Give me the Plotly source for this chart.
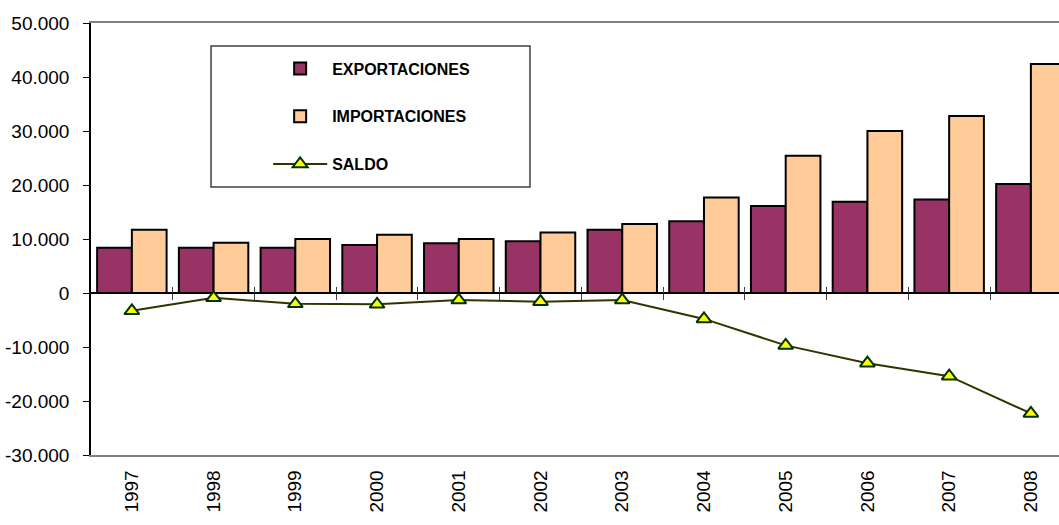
import plotly.graph_objects as go

years = ["1997", "1998", "1999", "2000", "2001", "2002", "2003", "2004", "2005", "2006", "2007", "2008"]
exportaciones = [8400, 8400, 8400, 8900, 9200, 9600, 11700, 13300, 16100, 16900, 17300, 20200]
importaciones = [11700, 9300, 10000, 10800, 10000, 11200, 12800, 17700, 25400, 30000, 32800, 42400]
saldo = [-3300, -900, -2000, -2100, -1300, -1600, -1300, -4800, -9700, -13000, -15400, -22300]
y_ticks = [-30000, -20000, -10000, 0, 10000, 20000, 30000, 40000, 50000]
y_tick_text = ["-30.000", "-20.000", "-10.000", "0", "10.000", "20.000", "30.000", "40.000", "50.000"]

idx = list(range(len(years)))
boundaries = [i + 0.5 for i in idx]
xr = [-0.5, 11.344]
font_family = "Arial, Liberation Sans, sans-serif"

fig = go.Figure()
fig.add_trace(go.Bar(
    x=idx, y=exportaciones, name="EXPORTACIONES",
    marker=dict(color="#993366", line=dict(color="black", width=2)),
    legendgroup="a",
))
fig.add_trace(go.Bar(
    x=idx, y=importaciones, name="IMPORTACIONES",
    marker=dict(color="#FFCC99", line=dict(color="black", width=2)),
    legendgroup="b",
))
fig.add_trace(go.Scatter(
    x=idx, y=saldo, name="SALDO", mode="lines+markers",
    line=dict(color="#333300", width=2),
    marker=dict(symbol="triangle-up", size=13, color="#FFFF00",
                line=dict(color="#003300", width=2)),
    legendgroup="c",
))
# carriers for the boundary tick marks drawn on the zero line (draw nothing themselves)
for ax in ("x2", "x3"):
    fig.add_trace(go.Scatter(x=idx, y=saldo, xaxis=ax, mode="none",
                             showlegend=False, hoverinfo="skip"))

fig.update_layout(
    width=1059, height=525,
    margin=dict(l=91, r=0, t=23, b=70),
    paper_bgcolor="white", plot_bgcolor="white",
    font=dict(family=font_family, color="black"),
    barmode="group", bargap=0.15, bargroupgap=0,
    showlegend=True,
    legend=dict(
        x=0.183, y=0.934, xanchor="left", yanchor="top",
        bgcolor="rgba(0,0,0,0)", borderwidth=0,
        font=dict(size=16, family=font_family, weight="bold"),
        tracegroupgap=24, itemwidth=54,
    ),
    xaxis=dict(
        range=xr, tickmode="array", tickvals=idx, ticktext=years,
        tickangle=-90, tickfont=dict(size=19), ticks="",
        showline=True, linecolor="#808080", linewidth=1.5, mirror=True,
        showgrid=False, zeroline=False, ticklabelstandoff=6,
    ),
    xaxis2=dict(
        overlaying="x", anchor="free", position=0.375, range=xr,
        tickmode="array", tickvals=boundaries, ticks="outside", ticklen=6,
        tickcolor="#404040", tickwidth=1, showticklabels=False,
        showline=False, showgrid=False, zeroline=False, side="bottom",
    ),
    xaxis3=dict(
        overlaying="x", anchor="free", position=0.375, range=xr,
        tickmode="array", tickvals=boundaries, ticks="outside", ticklen=6,
        tickcolor="#404040", tickwidth=1, showticklabels=False,
        showline=False, showgrid=False, zeroline=False, side="top",
    ),
    yaxis=dict(
        range=[-30000, 50000], tickmode="array", tickvals=y_ticks, ticktext=y_tick_text,
        tickfont=dict(size=19), ticks="outside", ticklen=6, tickcolor="black",
        showline=True, linecolor="black", linewidth=1.5,
        showgrid=False, zeroline=True, zerolinecolor="black", zerolinewidth=1.5,
        ticklabelstandoff=10,
    ),
    shapes=[dict(type="rect", xref="paper", yref="paper",
                 x0=0.124, x1=0.4535, y0=0.6204, y1=0.9468,
                 line=dict(color="#404040", width=1.5), fillcolor="rgba(0,0,0,0)",
                 layer="above")],
)

fig.write_html("out.html", config={"displayModeBar": False},
               post_script="document.body.style.margin='0';document.body.style.overflow='hidden';")
